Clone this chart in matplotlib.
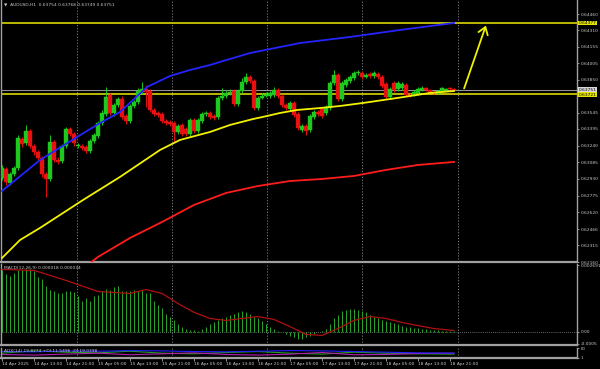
import numpy as np
import matplotlib.pyplot as plt
from matplotlib.patches import Rectangle
import matplotlib.transforms as mtransforms

plt.rcParams['font.family'] = ['DejaVu Sans']

W, H = 600, 369

### data (AUDUSD H1)
opens = [0.62939, 0.63023, 0.62893, 0.62976, 0.63032, 0.63301, 0.63264, 0.63375, 0.63236, 0.63180,
         0.63125, 0.62976, 0.62930, 0.63273, 0.63106, 0.63097, 0.63236, 0.63394, 0.63347, 0.63236,
         0.63236, 0.63227, 0.63190, 0.63282, 0.63329, 0.63449, 0.63533, 0.63709, 0.63542, 0.63616,
         0.63672, 0.63514, 0.63468, 0.63607, 0.63644, 0.63737, 0.63765, 0.63746, 0.63570, 0.63542,
         0.63533, 0.63468, 0.63459, 0.63449, 0.63366, 0.63431, 0.63394, 0.63347, 0.63477, 0.63375,
         0.63468, 0.63533, 0.63542, 0.63514, 0.63505, 0.63681, 0.63700, 0.63728, 0.63746, 0.63625,
         0.63746, 0.63830, 0.63876, 0.63839, 0.63588, 0.63681, 0.63700, 0.63700, 0.63709, 0.63755,
         0.63700, 0.63616, 0.63579, 0.63635, 0.63533, 0.63384, 0.63421, 0.63384, 0.63505, 0.63551,
         0.63579, 0.63542, 0.63588, 0.63820, 0.63894, 0.63672, 0.63802, 0.63839, 0.63867, 0.63913,
         0.63913, 0.63876, 0.63904, 0.63885, 0.63904, 0.63876, 0.63811, 0.63690, 0.63820, 0.63765,
         0.63774, 0.63802, 0.63709, 0.63709, 0.63728, 0.63755, 0.63774, 0.63755, 0.63737, 0.63728,
         0.63746, 0.63755, 0.63774, 0.63765]
highs = [0.63060, 0.63041, 0.62995, 0.63051, 0.63338, 0.63319, 0.63431, 0.63394, 0.63255, 0.63199,
         0.63143, 0.62995, 0.63338, 0.63292, 0.63134, 0.63255, 0.63412, 0.63412, 0.63366, 0.63264,
         0.63255, 0.63245, 0.63301, 0.63357, 0.63468, 0.63570, 0.63783, 0.63728, 0.63635, 0.63690,
         0.63700, 0.63533, 0.63625, 0.63663, 0.63774, 0.63830, 0.63802, 0.63765, 0.63588, 0.63560,
         0.63551, 0.63486, 0.63477, 0.63468, 0.63440, 0.63449, 0.63412, 0.63496, 0.63496, 0.63496,
         0.63551, 0.63560, 0.63560, 0.63533, 0.63700, 0.63774, 0.63755, 0.63765, 0.63765, 0.63765,
         0.63867, 0.63913, 0.63894, 0.63857, 0.63700, 0.63728, 0.63737, 0.63746, 0.63783, 0.63774,
         0.63718, 0.63635, 0.63653, 0.63653, 0.63551, 0.63440, 0.63440, 0.63533, 0.63570, 0.63570,
         0.63597, 0.63616, 0.63839, 0.63941, 0.63913, 0.63839, 0.63867, 0.63894, 0.63932, 0.63941,
         0.63932, 0.63913, 0.63922, 0.63932, 0.63922, 0.63894, 0.63830, 0.63783, 0.63839, 0.63839,
         0.63830, 0.63820, 0.63728, 0.63755, 0.63783, 0.63792, 0.63783, 0.63765, 0.63746, 0.63755,
         0.63783, 0.63774, 0.63783, 0.63774]
lows = [0.62921, 0.62874, 0.62874, 0.62958, 0.63014, 0.63227, 0.63245, 0.63218, 0.63153, 0.63097,
        0.62949, 0.62763, 0.62911, 0.63088, 0.63069, 0.63078, 0.63218, 0.63329, 0.63236, 0.63218,
        0.63199, 0.63171, 0.63171, 0.63264, 0.63310, 0.63431, 0.63514, 0.63523, 0.63514, 0.63597,
        0.63486, 0.63440, 0.63449, 0.63588, 0.63625, 0.63718, 0.63597, 0.63551, 0.63514, 0.63505,
        0.63449, 0.63431, 0.63421, 0.63273, 0.63347, 0.63329, 0.63329, 0.63329, 0.63357, 0.63357,
        0.63449, 0.63514, 0.63486, 0.63477, 0.63486, 0.63663, 0.63681, 0.63709, 0.63607, 0.63607,
        0.63728, 0.63811, 0.63820, 0.63570, 0.63570, 0.63672, 0.63690, 0.63681, 0.63690, 0.63681,
        0.63597, 0.63570, 0.63560, 0.63505, 0.63384, 0.63366, 0.63338, 0.63366, 0.63486, 0.63514,
        0.63496, 0.63523, 0.63570, 0.63802, 0.63653, 0.63653, 0.63783, 0.63820, 0.63848, 0.63894,
        0.63857, 0.63867, 0.63867, 0.63867, 0.63857, 0.63774, 0.63672, 0.63672, 0.63737, 0.63746,
        0.63755, 0.63690, 0.63690, 0.63700, 0.63709, 0.63746, 0.63746, 0.63728, 0.63718, 0.63718,
        0.63737, 0.63746, 0.63755, 0.63746]
closes = [0.63032, 0.62902, 0.62976, 0.63032, 0.63310, 0.63255, 0.63375, 0.63236, 0.63180, 0.63125,
          0.62976, 0.62930, 0.63273, 0.63106, 0.63088, 0.63236, 0.63394, 0.63347, 0.63264, 0.63245,
          0.63218, 0.63190, 0.63282, 0.63338, 0.63449, 0.63542, 0.63690, 0.63542, 0.63616, 0.63672,
          0.63505, 0.63468, 0.63607, 0.63644, 0.63746, 0.63765, 0.63737, 0.63570, 0.63533, 0.63523,
          0.63468, 0.63449, 0.63440, 0.63366, 0.63421, 0.63347, 0.63347, 0.63477, 0.63375, 0.63477,
          0.63533, 0.63542, 0.63505, 0.63496, 0.63681, 0.63700, 0.63728, 0.63737, 0.63625, 0.63746,
          0.63830, 0.63876, 0.63839, 0.63588, 0.63681, 0.63700, 0.63709, 0.63728, 0.63755, 0.63700,
          0.63616, 0.63588, 0.63635, 0.63523, 0.63403, 0.63421, 0.63375, 0.63514, 0.63551, 0.63533,
          0.63514, 0.63597, 0.63820, 0.63894, 0.63672, 0.63820, 0.63848, 0.63876, 0.63913, 0.63922,
          0.63876, 0.63894, 0.63885, 0.63913, 0.63876, 0.63792, 0.63690, 0.63765, 0.63755, 0.63820,
          0.63811, 0.63709, 0.63700, 0.63737, 0.63765, 0.63774, 0.63755, 0.63737, 0.63728, 0.63746,
          0.63774, 0.63765, 0.63765, 0.63751]

# moving averages, read at points along each line (bar position, price)
blue_bars = [0, 9.5, 18.75, 24.5, 29.5, 36.25, 42, 47, 52, 55.25, 62, 74.5, 87, 99.5, 113]
ma_blue = [0.62819, 0.63106, 0.63319, 0.63449, 0.63551, 0.63783, 0.63885, 0.63941, 0.63987, 0.64024,
           0.64098, 0.64191, 0.64247, 0.64312, 0.64377]
yellow_bars = [0, 4.5, 9.5, 20.25, 29.5, 39.5, 44.5, 52, 57, 62.75, 66.25, 69.5, 73.75, 79.5, 84.5,
               90.25, 98.75, 107, 113]
ma_yellow = [0.62197, 0.62364, 0.62476, 0.62735, 0.62949, 0.63199, 0.63292, 0.63366, 0.63431, 0.63486,
             0.63514, 0.63542, 0.63570, 0.63588, 0.63607, 0.63635, 0.63681, 0.63728, 0.63746]
red_bars = [22, 24, 32, 40, 48, 56, 64, 72, 80, 88, 96, 104, 113]
ma_red = [0.62151, 0.62207, 0.62383, 0.62531, 0.62689, 0.62800, 0.62865, 0.62911, 0.62930, 0.62958,
          0.63014, 0.63060, 0.63088]

level_hi = 0.64377
level_lo = 0.63721
last_price = 0.63751
price_ticks = [0.64460, 0.64310, 0.64155, 0.64005, 0.63850, 0.63545, 0.63395, 0.63240, 0.63085,
               0.62930, 0.62775, 0.62620, 0.62466, 0.62315, 0.62160]

macd_hist = [0.00249, 0.00233, 0.00228, 0.00237, 0.00249, 0.00249, 0.00253, 0.00253, 0.00245, 0.00224,
             0.00212, 0.00184, 0.00171, 0.00163, 0.00155, 0.00155, 0.00167, 0.00167, 0.00159, 0.00143,
             0.00126, 0.00135, 0.00126, 0.00143, 0.00147, 0.00167, 0.00175, 0.00171, 0.00180, 0.00184,
             0.00167, 0.00163, 0.00167, 0.00171, 0.00167, 0.00171, 0.00155, 0.00155, 0.00126, 0.00106,
             0.00094, 0.00073, 0.00061, 0.00045, 0.00029, 0.00020, 0.00012, 0.00008, 0.00008, 0.00004,
             0.00012, 0.00020, 0.00029, 0.00037, 0.00045, 0.00053, 0.00061, 0.00069, 0.00073, 0.00078,
             0.00082, 0.00078, 0.00073, 0.00061, 0.00053, 0.00041, 0.00029, 0.00020, 0.00012, 0.00004,
             -0.00004, -0.00012, -0.00020, -0.00024, -0.00029, -0.00029, -0.00024, -0.00020, -0.00012, -0.00004,
             0.00004, 0.00012, 0.00029, 0.00053, 0.00069, 0.00082, 0.00086, 0.00090, 0.00090, 0.00086,
             0.00082, 0.00078, 0.00069, 0.00061, 0.00053, 0.00045, 0.00041, 0.00037, 0.00033, 0.00029,
             0.00024, 0.00020, 0.00020, 0.00016, 0.00016, 0.00012, 0.00012, 0.00008, 0.00008, 0.00008,
             0.00004, 0.00004, 0.00004, 0.00002]
sig_bars = [0, 8, 16, 24, 32, 36, 40, 44, 48, 52, 56, 60, 64, 68, 72, 76, 80, 84, 88, 92, 96, 100, 104, 108, 113]
macd_signal = [0.00253, 0.00249, 0.00208, 0.00163, 0.00155, 0.00171, 0.00155, 0.00114, 0.00078, 0.00053,
               0.00045, 0.00053, 0.00061, 0.00049, 0.00020, -0.00012, -0.00016, 0.00012, 0.00045, 0.00061,
               0.00053, 0.00037, 0.00024, 0.00012, 0.00004]

adx_bars = [0, 8, 16, 24, 32, 40, 48, 56, 64, 72, 80, 88, 96, 104, 113]
adx_main = [40, 38, 44, 42, 46, 44, 40, 38, 42, 46, 44, 40, 36, 32, 30]
adx_plus = [30, 44, 36, 32, 42, 30, 26, 34, 40, 30, 24, 36, 30, 26, 24]
adx_minus = [22, 18, 24, 30, 20, 26, 32, 22, 18, 24, 34, 20, 22, 28, 30]

time_labels = ['14 Apr 2025', '14 Apr 13:00', '14 Apr 21:00', '15 Apr 05:00', '15 Apr 13:00',
               '15 Apr 21:00', '16 Apr 05:00', '16 Apr 13:00', '16 Apr 21:00', '17 Apr 05:00',
               '17 Apr 13:00', '17 Apr 21:00', '18 Apr 05:00', '18 Apr 13:00', '18 Apr 21:00']
label_bars = list(range(0, 113, 8))
grid_bars = [18.75, 42.5, 66.25, 90.0, 114.0]

### colours
BG = 'black'
FG = '#c8c8c8'
FRAME = '#a0a0a0'
BULL = '#1ec81e'
BEAR = '#e81010'
FS = 3.2

fig = plt.figure(figsize=(W / 100, H / 100), dpi=100, facecolor=BG)


def px_axes(x0, y0, x1, y1):
    ax = fig.add_axes([x0 / W, 1 - y1 / H, (x1 - x0) / W, (y1 - y0) / H])
    ax.set_facecolor(BG)
    for s in ax.spines.values():
        s.set_color(FRAME)
        s.set_linewidth(1.0)
    ax.spines['top'].set_visible(False)
    ax.spines['bottom'].set_linewidth(1.6)
    ax.tick_params(colors=FG, labelsize=FS, length=1.5, width=0.5, pad=1)
    ax.set_xlim(-0.25, 143.75)
    return ax


def grid(a):
    for g in grid_bars:
        a.axvline(g, color='#8a8a8a', ls=(0, (1.5, 2)), lw=0.6, zorder=1)


n = len(closes)
idx = np.arange(n)

### main price chart
ax = px_axes(1, 0, 577, 262)
ax.set_ylim(0.62160, 0.64590)
grid(ax)

for i in range(n):
    o, h, l, c = opens[i], highs[i], lows[i], closes[i]
    col = BULL if c >= o else BEAR
    ax.vlines(i, l, h, color=col, lw=0.7, zorder=3)
    bot, top = min(o, c), max(o, c)
    if top - bot < 0.00002:
        ax.hlines(c, i - 0.4, i + 0.4, color=col, lw=0.8, zorder=3)
    else:
        ax.add_patch(Rectangle((i - 0.38, bot), 0.76, top - bot, facecolor=col, edgecolor=col,
                               lw=0.3, zorder=4))

ax.plot(red_bars, ma_red, color='#ff1c1c', lw=1.3, zorder=5)
ax.plot(yellow_bars, ma_yellow, color='#f2f200', lw=1.3, zorder=5)
ax.plot(blue_bars, ma_blue, color='#2424ff', lw=1.3, zorder=5)

ax.axhline(level_hi, color='#c8c800', lw=1.3, zorder=2)
ax.axhline(level_lo, color='#c8c800', lw=1.3, zorder=2)
ax.axhline(last_price, color='#9a9a9a', lw=0.7, zorder=2)

# hand-drawn arrow
ax.annotate('', xy=(121.2, 0.64377), xytext=(115.3, 0.63745),
            arrowprops=dict(arrowstyle='->,head_length=0.5,head_width=0.35', color='#f2f200', lw=1.3))

ax.yaxis.tick_right()
ax.set_yticks(price_ticks)
ax.set_yticklabels([f'{v:.5f}' for v in price_ticks])
ax.set_xticks([])

trans = mtransforms.blended_transform_factory(ax.transAxes, ax.transData)
for val, face, dy in [(level_hi, '#e6e600', 0), (last_price, '#d8d8d8', 0.00006),
                      (level_lo, '#e6e600', -0.00008)]:
    ax.text(1.003, val + dy, f'{val:.5f}', transform=trans, fontsize=FS, color='black', va='center',
            ha='left', bbox=dict(boxstyle='square,pad=0.1', fc=face, ec='none'), zorder=6, clip_on=False)

ax.text(0.006, 0.992, '▼  AUDUSD,H1  0.63754 0.63768 0.63749 0.63751', transform=ax.transAxes,
        fontsize=FS, color=FG, va='top', ha='left')

### MACD
ax2 = px_axes(1, 264, 577, 345)
ax2.set_ylim(-0.00055, 0.00275)
grid(ax2)
ax2.axhline(0, color='#8a8a8a', ls=(0, (1, 1.5)), lw=0.6, zorder=1)
ax2.vlines(idx, 0, macd_hist, color='#2aa82a', lw=0.7, zorder=2)
ax2.plot(sig_bars, macd_signal, color='#b01010', lw=0.9, zorder=3)
ax2.yaxis.tick_right()
ax2.set_yticks([0.002691, 0.0, -0.0005])
ax2.set_yticklabels(['0.002691', '0.00', '-0.0005'])
ax2.set_xticks([])
ax2.text(0.006, 0.97, 'MACD(12,26,9) 0.000018 0.000034', transform=ax2.transAxes,
         fontsize=FS, color=FG, va='top', ha='left')

### ADX
ax3 = px_axes(1, 348, 577, 358)
ax3.set_ylim(0, 62)
grid(ax3)
ax3.plot(adx_bars, adx_plus, color='#20a020', lw=0.8)
ax3.plot(adx_bars, adx_minus, color='#b020b0', lw=0.8)
ax3.plot(adx_bars, adx_main, color='#2020ff', lw=0.8)
ax3.yaxis.tick_right()
ax3.set_yticks([60, 1])
ax3.set_yticklabels(['60', '1'], fontsize=2.8)
ax3.text(0.006, 0.95, 'ADX(14) 19.8274 +DI:11.5496 -DI:19.0398', transform=ax3.transAxes,
         fontsize=FS, color=FG, va='top', ha='left')

ax3.set_xticks(label_bars)
ax3.set_xticklabels(time_labels, ha='left')
ax3.tick_params(axis='x', length=2, pad=1)

fig.savefig('out.png', dpi=100, facecolor=BG)
